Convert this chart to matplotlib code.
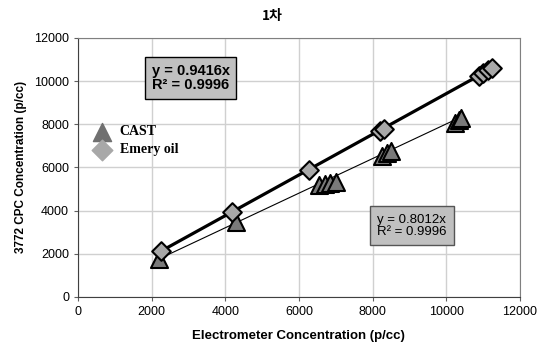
import numpy as np
import matplotlib
matplotlib.use("Agg")
import matplotlib.pyplot as plt

plt.rcParams['font.family'] = ['Liberation Sans', 'Noto Sans CJK KR', 'DejaVu Sans']

# data
cast_x = [2200, 4300, 6550, 6700, 6850, 7000, 8250, 8400, 8500, 10250, 10350, 10400]
cast_y = [1760, 3480, 5200, 5250, 5300, 5330, 6550, 6680, 6750, 8050, 8200, 8300]
emery_x = [2250, 4180, 6270, 8200, 8300, 10900, 11000, 11150, 11250]
emery_y = [2150, 3920, 5880, 7680, 7780, 10250, 10380, 10500, 10600]

cast_slope = 0.8012
emery_slope = 0.9416


def main():
    fig = plt.figure(figsize=(5.42, 3.51), dpi=100)
    ax = fig.add_axes([0.144, 0.154, 0.815, 0.738])

    ax.grid(color='#d0d0d0', linewidth=1)
    ax.set_axisbelow(True)

    # trend lines through origin
    xe = np.array([min(emery_x), max(emery_x)])
    ax.plot(xe, emery_slope * xe, color='black', linewidth=2.3, zorder=2)
    xc = np.array([min(cast_x), max(cast_x)])
    ax.plot(xc, cast_slope * xc, color='black', linewidth=0.8, zorder=2)

    ax.scatter(cast_x, cast_y, marker='^', s=150, color='#7a7a7a',
               edgecolors='black', linewidths=1.5, zorder=3)
    ax.scatter(emery_x, emery_y, marker='D', s=90, color='#a8a8a8',
               edgecolors='black', linewidths=1.5, zorder=4)

    # legend made of plain markers
    h1 = ax.scatter([], [], marker='^', s=170, color='#707070')
    h2 = ax.scatter([], [], marker='D', s=110, color='#a8a8a8')
    ax.legend([h1, h2], ['CAST', 'Emery oil'], loc='upper left',
              bbox_to_anchor=(0.0, 0.7), frameon=False, handletextpad=0.3,
              labelspacing=0.35, borderaxespad=0.3,
              prop={'family': 'Liberation Serif', 'weight': 'bold', 'size': 10})

    ax.text(0.255, 0.845, 'y = 0.9416x\nR² = 0.9996', transform=ax.transAxes,
            ha='center', va='center', fontsize=10.5, fontweight='bold',
            linespacing=1.0, multialignment='center',
            bbox=dict(boxstyle='square,pad=0.45', facecolor='#c0c0c0', edgecolor='black'))
    ax.text(0.755, 0.275, 'y = 0.8012x\nR² = 0.9996', transform=ax.transAxes,
            ha='center', va='center', fontsize=9.5, linespacing=1.0,
            multialignment='center',
            bbox=dict(boxstyle='square,pad=0.55', facecolor='#c0c0c0', edgecolor='#555555'))

    ax.set_xlim(0, 12000)
    ax.set_ylim(0, 12000)
    ax.set_xticks(range(0, 12001, 2000))
    ax.set_yticks(range(0, 12001, 2000))
    ax.tick_params(labelsize=9, length=3, color='#606060')
    for s in ax.spines.values():
        s.set_color('#808080')
    ax.spines['left'].set_color('#404040')
    ax.spines['bottom'].set_color('#404040')

    ax.set_xlabel('Electrometer Concentration (p/cc)', fontsize=9.5,
                  fontweight='bold', labelpad=9)
    ax.set_ylabel('3772 CPC Concentration (p/cc)', fontsize=8.5,
                  fontweight='bold', labelpad=5)
    fig.text(0.502, 0.955, '1차', ha='center', va='center', fontsize=10,
             fontweight='bold', family=['Noto Sans CJK KR', 'DejaVu Sans'])

    fig.savefig('out.png', dpi=100)


if __name__ == "__main__":
    main()
